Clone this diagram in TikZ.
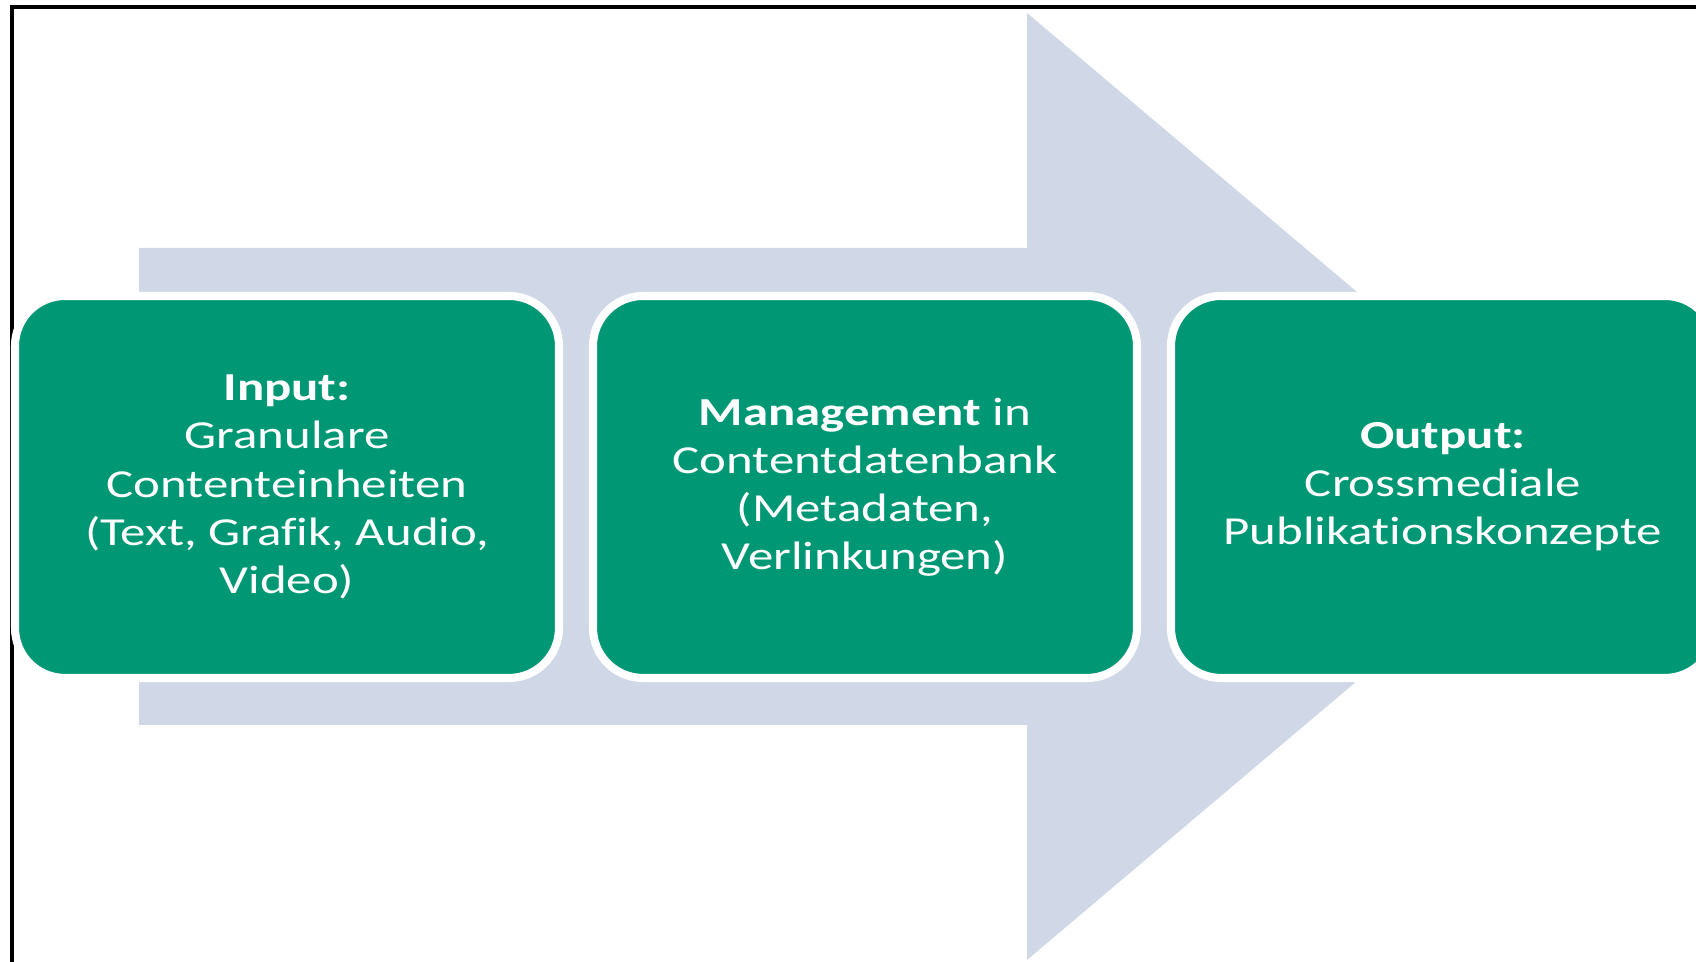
\documentclass[tikz,border=0pt]{standalone}
\usepackage{fontspec}
\setmainfont[Ligatures=NoCommon]{Carlito}
\usepackage{tikz}
\usetikzlibrary{arrows.meta}
\definecolor{boxgreen}{RGB}{0,152,116}
\definecolor{arrowblue}{RGB}{208,216,232}
\tikzset{
    % gruene Prozessbox mit weissem Rand
    procbox/.style={
        xscale=1.28,
        rounded corners=0.5cm,
        fill=boxgreen,
        draw=white,
        line width=2.3pt,
        minimum width=4.25cm,
        minimum height=3.82cm,
        text=white,
        align=center,
        font=\fontsize{11.3}{13.7}\selectfont
    }
}

\begin{document}
\begin{tikzpicture}
	\useasboundingbox (0,0) rectangle (16.96,9.62);
	\clip (0,0) rectangle (16.96,9.62);
	\fill[white] (0,0) rectangle (16.96,9.62);

	\draw[line width=1pt] (0.12,-0.1) -- (0.12,9.55) -- (17.1,9.55);

	% grosser Pfeil im Hintergrund
	\fill[arrowblue] (1.39,7.14) -- (10.27,7.14) -- (10.27,9.49) -- (15.87,4.755)
		-- (10.27,0.02) -- (10.27,2.37) -- (1.39,2.37) -- cycle;

	\node [procbox] (input) at (2.87,4.75) {\textbf{Input:}\\Granulare\\Contenteinheiten\\(Text, Grafik, Audio,\\Video)};
	\node [procbox] (mgmt) at (8.65,4.75) {\textbf{Management} in\\Contentdatenbank\\(Metadaten,\\Verlinkungen)};
	\node [procbox] (output) at (14.43,4.75) {\textbf{Output:}\\Crossmediale\\Publikationskonzepte};
\end{tikzpicture}
\end{document}
